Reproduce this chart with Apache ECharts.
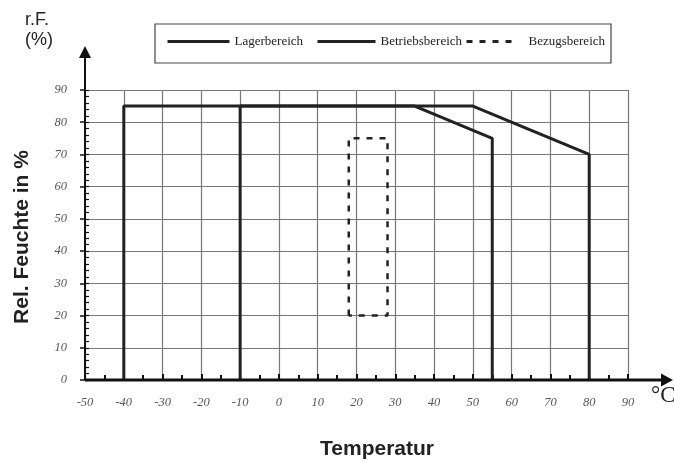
<!DOCTYPE html>
<html><head><meta charset="utf-8">
<script src="https://cdn.jsdelivr.net/npm/echarts@6/dist/echarts.min.js"></script>
<style>html,body{margin:0;padding:0;background:#fff}#c{width:674px;height:463px}</style>
</head><body><div id="c"></div>
<script>
// ---- data ----
const seriesNames = ['Lagerbereich', 'Betriebsbereich', 'Bezugsbereich'];
const lagerX = [-40, -40, 50, 80, 80];
const lagerY = [0, 85, 85, 70, 0];
const betriebX = [-10, -10, 35, 55, 55];
const betriebY = [0, 85, 85, 75, 0];
const bezugX = [18, 18, 28, 28, 18];
const bezugY = [20, 75, 75, 20, 20];
const xRange = [-50, 90];
const yRange = [0, 90];
const tickStep = 10;
const xUnit = '°C';
const yUnitTop = 'r.F.';
const yUnitBottom = '(%)';
const xTitle = 'Temperatur';
const yTitle = 'Rel. Feuchte in %';

function pts(xs, ys) { return xs.map((x, i) => [x, ys[i]]); }

const chart = echarts.init(document.getElementById('c'), null, {renderer: 'canvas'});
const serif = 'Liberation Serif';
const sans = 'Liberation Sans';
const dash = [6, 7];

function legendCfg(name, left, w, extraPad) {
  return {
    data: [name], left: left, top: 35, padding: 0, orient: 'horizontal',
    itemWidth: w, itemHeight: 14, selectedMode: false,
    lineStyle: {width: 3},
    itemStyle: {opacity: 0},
    textStyle: {fontFamily: serif, fontSize: 13, color: '#222', padding: [0, 0, 0, extraPad]}
  };
}

chart.setOption({
  animation: false,
  backgroundColor: '#fff',
  grid: {left: 85, right: 46, top: 90, bottom: 83, containLabel: false, outerBoundsMode: 'none'},
  legend: [
    legendCfg(seriesNames[0], 166, 62, 0),
    legendCfg(seriesNames[1], 316, 58, 0),
    legendCfg(seriesNames[2], 465, 48, 9)
  ],
  xAxis: {
    type: 'value', min: xRange[0], max: xRange[1], interval: tickStep,
    axisLine: {show: false, onZero: false},
    axisTick: {show: true, inside: true, length: 6, lineStyle: {color: '#111', width: 2}},
    minorTick: {show: true, splitNumber: 2, length: 5, lineStyle: {color: '#111', width: 2}},
    axisLabel: {margin: 16, fontFamily: serif, fontStyle: 'italic', fontSize: 12.5, color: '#555'},
    splitLine: {show: true, lineStyle: {color: '#777', width: 1.2}}
  },
  yAxis: [{
    type: 'value', min: yRange[0], max: yRange[1], interval: tickStep, position: 'left',
    axisLine: {show: false, onZero: false},
    axisTick: {show: true, inside: false, length: 5, lineStyle: {color: '#111', width: 1.5}},
    axisLabel: {margin: 18, fontFamily: serif, fontStyle: 'italic', fontSize: 12.5, color: '#555'},
    splitLine: {show: true, lineStyle: {color: '#777', width: 1.2}}
  }, {
    type: 'value', min: yRange[0], max: yRange[1], interval: tickStep, position: 'left', offset: 0,
    axisLine: {show: false, onZero: false}, axisLabel: {show: false}, splitLine: {show: false},
    axisTick: {show: true, inside: true, length: 4, lineStyle: {color: '#111', width: 1.2}},
    minorTick: {show: true, splitNumber: 5, length: 4, lineStyle: {color: '#111', width: 1.2}}
  }],
  series: [
    {name: seriesNames[0], type: 'line', data: pts(lagerX, lagerY), symbol: 'none', z: 5,
      lineStyle: {color: '#222', width: 3}, itemStyle: {color: '#222'}},
    {name: seriesNames[1], type: 'line', data: pts(betriebX, betriebY), symbol: 'none', z: 5,
      lineStyle: {color: '#222', width: 3}, itemStyle: {color: '#222'}},
    {name: seriesNames[2], type: 'line', data: pts(bezugX, bezugY), symbol: 'none', z: 5,
      lineStyle: {color: '#222', width: 2.5, type: dash}, itemStyle: {color: '#222'}}
  ]
});

const o = chart.convertToPixel({gridIndex: 0}, [xRange[0], yRange[0]]);

chart.setOption({
  graphic: [
    {type: 'rect', shape: {x: 155, y: 24, width: 456, height: 39}, style: {fill: 'none', stroke: '#444', lineWidth: 1.2}, z: 1},
    // y axis line + arrow
    {type: 'line', shape: {x1: o[0], y1: o[1], x2: o[0], y2: 56}, style: {stroke: '#111', lineWidth: 2}, z: 10},
    {type: 'polygon', shape: {points: [[o[0] - 6, 58], [o[0], 46], [o[0] + 6, 58]]}, style: {fill: '#111'}, z: 10},
    // x axis line + arrow
    {type: 'line', shape: {x1: o[0], y1: o[1], x2: 663, y2: o[1]}, style: {stroke: '#111', lineWidth: 3}, z: 10},
    {type: 'polygon', shape: {points: [[661, o[1] - 6.5], [673, o[1]], [661, o[1] + 6.5]]}, style: {fill: '#111'}, z: 10},
    // texts
    {type: 'text', left: 25, top: 11, style: {text: yUnitTop, font: '18px ' + sans, fill: '#222'}},
    {type: 'text', left: 25, top: 31, style: {text: yUnitBottom, font: '18px ' + sans, fill: '#222'}},
    {type: 'text', x: 651, y: 396, style: {text: xUnit, font: '23px ' + serif, fill: '#222', verticalAlign: 'middle'}},
    {type: 'text', x: 377, y: 449, style: {text: xTitle, font: 'bold 21px ' + sans, fill: '#222', align: 'center', verticalAlign: 'middle'}},
    {type: 'text', x: 22, y: 237, rotation: Math.PI / 2, style: {text: yTitle, font: 'bold 21px ' + sans, fill: '#222', align: 'center', verticalAlign: 'middle'}}
  ]
});
</script></body></html>
